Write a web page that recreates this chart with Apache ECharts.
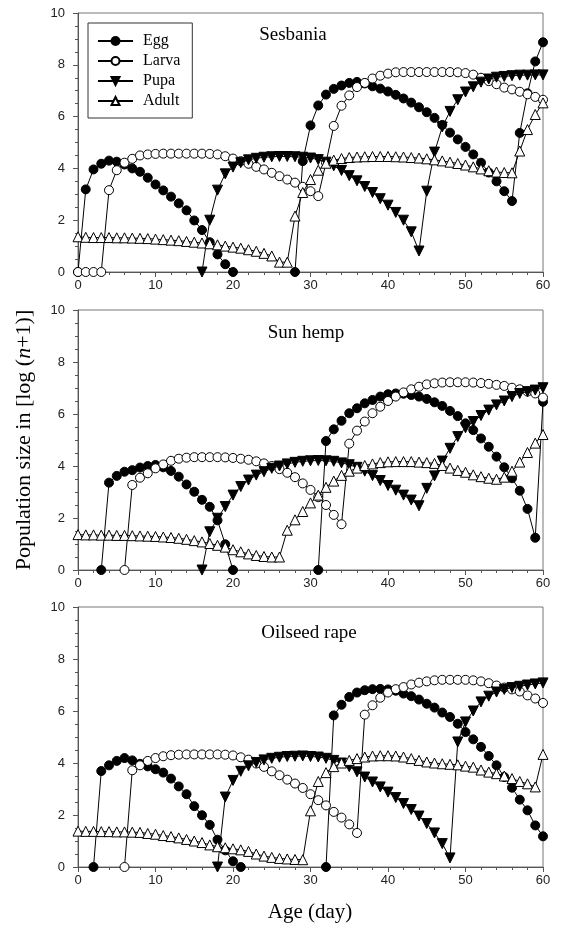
<!DOCTYPE html>
<html><head><meta charset="utf-8">
<script src="https://cdn.jsdelivr.net/npm/echarts@6/dist/echarts.min.js"></script>
<style>html,body{margin:0;padding:0;background:#fff}#c{width:561px;height:939px}</style>
</head><body><div id="c"></div>
<script>
const N = null;
const dayTicks = [0, 10, 20, 30, 40, 50, 60];
const panels = ['Sesbania', 'Sun hemp', 'Oilseed rape'];
const stages = ['Egg', 'Larva', 'Pupa', 'Adult'];

// Sesbania (day 0..60)
const egg_S = [0,3.19,3.96,4.18,4.30,4.26,4.15,4.00,3.87,3.64,3.38,3.15,2.91,2.65,2.38,1.99,1.62,1.15,0.68,0.30,0,
  N,N,N,N,N,N,N,
  0,4.28,5.66,6.43,6.85,7.07,7.20,7.30,7.34,7.28,7.17,7.08,6.97,6.84,6.70,6.54,6.36,6.17,5.95,5.68,5.38,5.12,4.83,4.54,4.22,3.84,3.50,3.12,2.74,5.37,6.90,8.13,8.87];
const larva_S = [0,0,0,0,3.16,3.93,4.22,4.37,4.50,4.54,4.56,4.57,4.57,4.57,4.57,4.57,4.57,4.56,4.54,4.47,4.38,
  4.28,4.18,4.06,3.96,3.83,3.70,3.57,3.45,3.29,3.12,2.93,4.22,5.64,6.42,6.82,7.14,7.30,7.47,7.58,7.66,
  7.71,7.72,7.72,7.72,7.72,7.72,7.72,7.72,7.71,7.68,7.62,7.50,7.37,7.25,7.12,7.05,6.96,6.86,6.76,6.65];
const pupa_S = [N,N,N,N,N,N,N,N,N,N,N,N,N,N,N,N,
  0,2.00,3.16,3.79,4.05,4.22,4.33,4.39,4.43,4.45,4.46,4.46,4.45,4.43,4.40,4.34,4.24,4.10,3.92,3.72,
  3.52,3.30,3.07,2.83,2.58,2.30,2.00,1.55,0.81,3.12,4.63,5.60,6.20,6.65,6.95,7.15,7.33,7.45,7.52,7.55,
  7.58,7.60,7.60,7.61,7.61];
const adult_S = [1.36,1.34,1.33,1.33,1.33,1.32,1.32,1.31,1.30,1.29,1.27,1.25,1.23,1.21,1.18,1.15,1.12,1.09,1.05,1.00,0.96,
  0.92,0.86,0.80,0.72,0.62,0.38,0.38,2.16,3.07,3.57,3.93,4.20,4.32,4.38,4.42,4.44,4.45,4.46,4.46,4.46,
  4.45,4.44,4.42,4.40,4.37,4.33,4.29,4.24,4.19,4.13,4.06,3.98,3.91,3.86,3.84,3.83,4.67,5.50,6.08,6.53];

// Sun hemp
const egg_H = [N,N,N,0,3.36,3.62,3.78,3.84,3.94,4.00,4.04,3.95,3.81,3.59,3.29,3.01,2.70,2.43,1.91,0.99,0,
  N,N,N,N,N,N,N,N,N,N,
  0,4.96,5.41,5.74,6.03,6.22,6.41,6.54,6.67,6.76,6.79,6.78,6.73,6.67,6.58,6.45,6.31,6.12,5.92,5.64,
  5.38,5.06,4.74,4.36,3.95,3.53,3.05,2.35,1.24,6.47];
const larva_H = [N,N,N,N,N,N,0,3.27,3.55,3.72,3.91,4.06,4.20,4.28,4.32,4.34,4.34,4.34,4.34,4.33,4.31,
  4.28,4.24,4.18,4.10,4.00,3.88,3.74,3.57,3.33,3.08,2.80,2.50,2.12,1.76,4.86,5.36,5.71,6.03,6.28,6.50,
  6.67,6.83,6.95,7.05,7.14,7.18,7.21,7.22,7.22,7.22,7.21,7.19,7.16,7.12,7.08,7.01,6.95,6.86,6.79,6.63];
const pupa_H = [N,N,N,N,N,N,N,N,N,N,N,N,N,N,N,N,
  0,1.47,1.99,2.44,2.88,3.21,3.46,3.65,3.78,3.91,4.00,4.08,4.14,4.18,4.20,4.21,4.20,4.18,4.12,4.05,
  3.95,3.80,3.63,3.44,3.25,3.07,2.88,2.69,2.47,3.14,3.62,4.19,4.68,5.13,5.47,5.71,5.94,6.15,6.35,6.50,
  6.67,6.79,6.86,6.92,7.01];
const adult_H = [1.36,1.35,1.35,1.34,1.34,1.33,1.33,1.32,1.31,1.30,1.29,1.27,1.25,1.22,1.18,1.13,1.08,1.02,0.95,0.88,0.78,
  0.70,0.62,0.56,0.52,0.50,0.50,1.53,1.93,2.25,2.58,2.88,3.18,3.42,3.64,3.80,3.92,4.02,4.08,4.13,4.16,
  4.17,4.17,4.17,4.15,4.13,4.10,4.02,3.92,3.83,3.76,3.66,3.59,3.53,3.49,3.57,3.80,4.15,4.52,4.88,5.21];

// Oilseed rape
const egg_R = [N,N,0,3.69,3.91,4.08,4.19,4.10,3.97,3.87,3.76,3.63,3.40,3.10,2.80,2.34,1.99,1.62,1.05,0.64,0.22,0,
  N,N,N,N,N,N,N,N,N,N,
  0,5.83,6.24,6.54,6.71,6.80,6.84,6.85,6.83,6.78,6.67,6.57,6.44,6.28,6.13,5.94,5.77,5.51,5.19,
  4.91,4.62,4.27,3.91,3.46,3.05,2.59,2.18,1.60,1.18];
const larva_R = [N,N,N,N,N,N,0,3.72,3.91,4.08,4.19,4.26,4.30,4.32,4.33,4.33,4.33,4.33,4.33,4.32,4.29,
  4.22,4.13,3.98,3.85,3.68,3.53,3.36,3.21,3.04,2.80,2.57,2.37,2.12,1.90,1.64,1.31,5.86,6.22,6.51,6.71,
  6.84,6.92,7.02,7.09,7.14,7.18,7.20,7.20,7.20,7.20,7.18,7.14,7.07,6.98,6.90,6.83,6.75,6.60,6.48,6.31];
const pupa_R = [N,N,N,N,N,N,N,N,N,N,N,N,N,N,N,N,N,N,
  0,2.69,3.33,3.68,3.89,4.02,4.12,4.18,4.22,4.25,4.26,4.27,4.25,4.23,4.18,4.10,4.00,3.86,
  3.66,3.46,3.27,3.08,2.88,2.67,2.44,2.21,1.96,1.67,1.31,0.90,0.35,4.81,5.58,6.00,6.35,6.57,6.73,6.83,
  6.90,6.95,7.00,7.04,7.08];
const adult_R = [1.38,1.37,1.37,1.36,1.36,1.35,1.35,1.34,1.33,1.29,1.26,1.21,1.17,1.12,1.06,1.00,0.94,0.85,0.78,0.74,0.70,
  0.66,0.60,0.50,0.42,0.37,0.33,0.31,0.29,0.28,2.16,3.29,3.63,3.86,4.00,4.10,4.17,4.23,4.27,4.28,4.28,
  4.27,4.23,4.17,4.10,4.04,4.00,3.97,3.95,3.93,3.88,3.84,3.73,3.65,3.59,3.50,3.40,3.29,3.20,3.08,4.33];

const panelData = [
  [egg_S, larva_S, pupa_S, adult_S],
  [egg_H, larva_H, pupa_H, adult_H],
  [egg_R, larva_R, pupa_R, adult_R]
];

const SERIF = '"Liberation Serif","Times New Roman",serif';
const SANS = '"Liberation Sans",Arial,sans-serif';
const stageStyle = [
  {symbol: 'circle', fill: '#000', rot: 0, size: 9},
  {symbol: 'circle', fill: '#fff', rot: 0, size: 9},
  {symbol: 'triangle', fill: '#000', rot: 180, size: 10},
  {symbol: 'triangle', fill: '#fff', rot: 0, size: 10}
];
const gridTops = [13, 310, 607];
const gridH = [259, 260, 260];
const titlePos = [[293, 35], [306, 333], [309, 633]];

const grids = [], xAxes = [], yAxes = [], series = [], graphics = [];
for (let g = 0; g < 3; g++) {
  grids.push({left: 78, top: gridTops[g], width: 465, height: gridH[g], show: true,
    borderColor: '#777', borderWidth: 1, backgroundColor: 'transparent'});
  xAxes.push({type: 'value', gridIndex: g, min: 0, max: 60, interval: 10,
    axisLine: {show: true, onZero: false, lineStyle: {color: '#555', width: 1}},
    axisTick: {show: true, inside: false, length: 5, lineStyle: {color: '#555'}},
    minorTick: {show: true, splitNumber: 5, length: 3, lineStyle: {color: '#555'}},
    splitLine: {show: false},
    axisLabel: {show: true, margin: 7, fontFamily: SANS, fontSize: 13, color: '#222',
      formatter: v => dayTicks.includes(v) ? String(v) : ''}
  });
  yAxes.push({type: 'value', gridIndex: g, min: 0, max: 10, interval: 2,
    axisLine: {show: true, onZero: false, lineStyle: {color: '#555', width: 1}},
    axisTick: {show: true, inside: false, length: 5, lineStyle: {color: '#555'}},
    minorTick: {show: true, splitNumber: 4, length: 3, lineStyle: {color: '#555'}},
    splitLine: {show: false},
    axisLabel: {show: true, margin: 13, fontFamily: SANS, fontSize: 13, color: '#222'}
  });
  for (let s = 0; s < 4; s++) {
    const st = stageStyle[s];
    series.push({
      type: 'line', name: stages[s], xAxisIndex: g, yAxisIndex: g,
      data: panelData[g][s].map((v, i) => [i, v === null ? '-' : v]),
      symbol: st.symbol, symbolSize: st.size, symbolRotate: st.rot, showSymbol: true, showAllSymbol: true,
      connectNulls: false, animation: false, z: 2 + s,
      lineStyle: {color: '#000', width: 1},
      itemStyle: {color: st.fill, borderColor: '#000', borderWidth: 1},
      emphasis: {disabled: true}
    });
  }
  graphics.push({type: 'text', x: titlePos[g][0], y: titlePos[g][1],
    style: {text: panels[g], font: '19px ' + SERIF, fill: '#000',
      textAlign: 'center', textVerticalAlign: 'middle', align: 'center', verticalAlign: 'middle'}});
}
graphics.push({type: 'text', x: 310, y: 912,
  style: {text: 'Age (day)', font: '21px ' + SERIF, fill: '#000',
    textAlign: 'center', textVerticalAlign: 'middle', align: 'center', verticalAlign: 'middle'}});
graphics.push({type: 'text', x: 24, y: 440, rotation: Math.PI / 2,
  style: {text: '{a|Population size in [log (}{b|n}{a|+1)]}', fill: '#000',
    textAlign: 'center', textVerticalAlign: 'middle', align: 'center', verticalAlign: 'middle',
    rich: {a: {fontFamily: SERIF, fontSize: 22, fill: '#000', color: '#000'},
           b: {fontFamily: SERIF, fontSize: 22, fontStyle: 'italic', fill: '#000', color: '#000'}}}});

const chart = echarts.init(document.getElementById('c'), null, {renderer: 'canvas'});
chart.setOption({
  animation: false,
  grid: grids, xAxis: xAxes, yAxis: yAxes, series: series,
  legend: {data: stages, orient: 'vertical', left: 88, top: 23, itemWidth: 35, itemHeight: 10, itemGap: 4,
    padding: [10, 12, 9, 9], borderColor: '#333', borderWidth: 1, backgroundColor: '#fff',
    selectedMode: false,
    textStyle: {fontFamily: SERIF, fontSize: 16, color: '#000', padding: [0, 0, 0, 5]}},
  graphic: graphics
});
</script></body></html>
